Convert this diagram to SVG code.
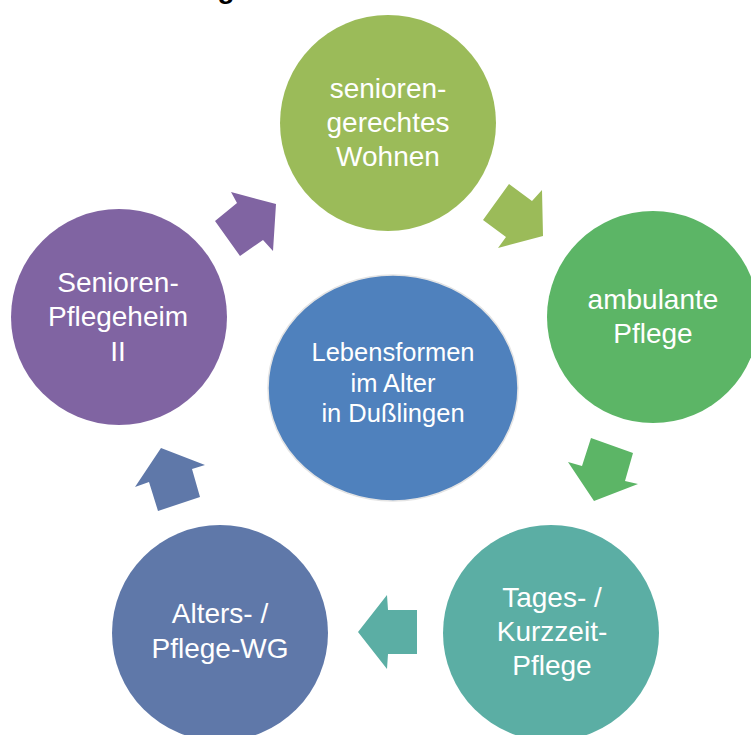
<svg xmlns="http://www.w3.org/2000/svg" width="751" height="735" viewBox="0 0 751 735">
<style>
.t{font-family:"Liberation Sans",Arial,sans-serif;fill:#fff;text-anchor:middle}
.o{font-size:28px}
.c{font-size:25.5px}
</style>
<rect width="751" height="735" fill="#fff"/>
<text x="226" y="-2" font-family="Liberation Sans,Arial,sans-serif" font-weight="bold" font-size="28" text-anchor="middle" fill="#000">g</text>
<g id="connectors">
<polygon points="483,220 509,184 532,201 542,190 543,236 498,248 506,237" fill="#9BBB59"/>
<polygon points="591,438 633,453 625,481 638,484 594,501 568,462 582,466" fill="#5CB566"/>
<polygon points="358,632 387,595 388,610 417,610 417,654 388,654 387,669" fill="#5BAEA4"/>
<polygon points="161,448 205,465 192,469 200,497 158,511 149,482 135,487" fill="#5F78A9"/>
<polygon points="215,221 240,256 263,240 273,251 276,204 231,192 237,203" fill="#8064A2"/>
</g>
<g id="center">
<ellipse cx="393" cy="388" rx="125" ry="113" fill="#4F81BD" stroke="#e4e4e4" stroke-width="1.5"/>
<text class="t c" x="393" y="361">Lebensformen</text>
<text class="t c" x="393" y="392">im Alter</text>
<text class="t c" x="393" y="422">in Dußlingen</text>
</g>
<g id="node-wohnen">
<circle cx="388" cy="123" r="108" fill="#9BBB59"/>
<text class="t o" x="388" y="98">senioren-</text>
<text class="t o" x="388" y="132">gerechtes</text>
<text class="t o" x="388" y="166">Wohnen</text>
</g>
<g id="node-ambulant">
<circle cx="653" cy="317" r="106" fill="#5CB566"/>
<text class="t o" x="653" y="309">ambulante</text>
<text class="t o" x="653" y="343">Pflege</text>
</g>
<g id="node-tages">
<circle cx="551" cy="633" r="108" fill="#5BAEA4"/>
<text class="t o" x="552" y="607">Tages- /</text>
<text class="t o" x="552" y="641">Kurzzeit-</text>
<text class="t o" x="552" y="675">Pflege</text>
</g>
<g id="node-wg">
<circle cx="220" cy="633" r="108" fill="#5F78A9"/>
<text class="t o" x="220" y="623">Alters- /</text>
<text class="t o" x="220" y="658">Pflege-WG</text>
</g>
<g id="node-heim">
<circle cx="119" cy="317" r="108" fill="#8064A2"/>
<text class="t o" x="118" y="292">Senioren-</text>
<text class="t o" x="118" y="326">Pflegeheim</text>
<text class="t o" x="118" y="361">II</text>
</g>
</svg>
